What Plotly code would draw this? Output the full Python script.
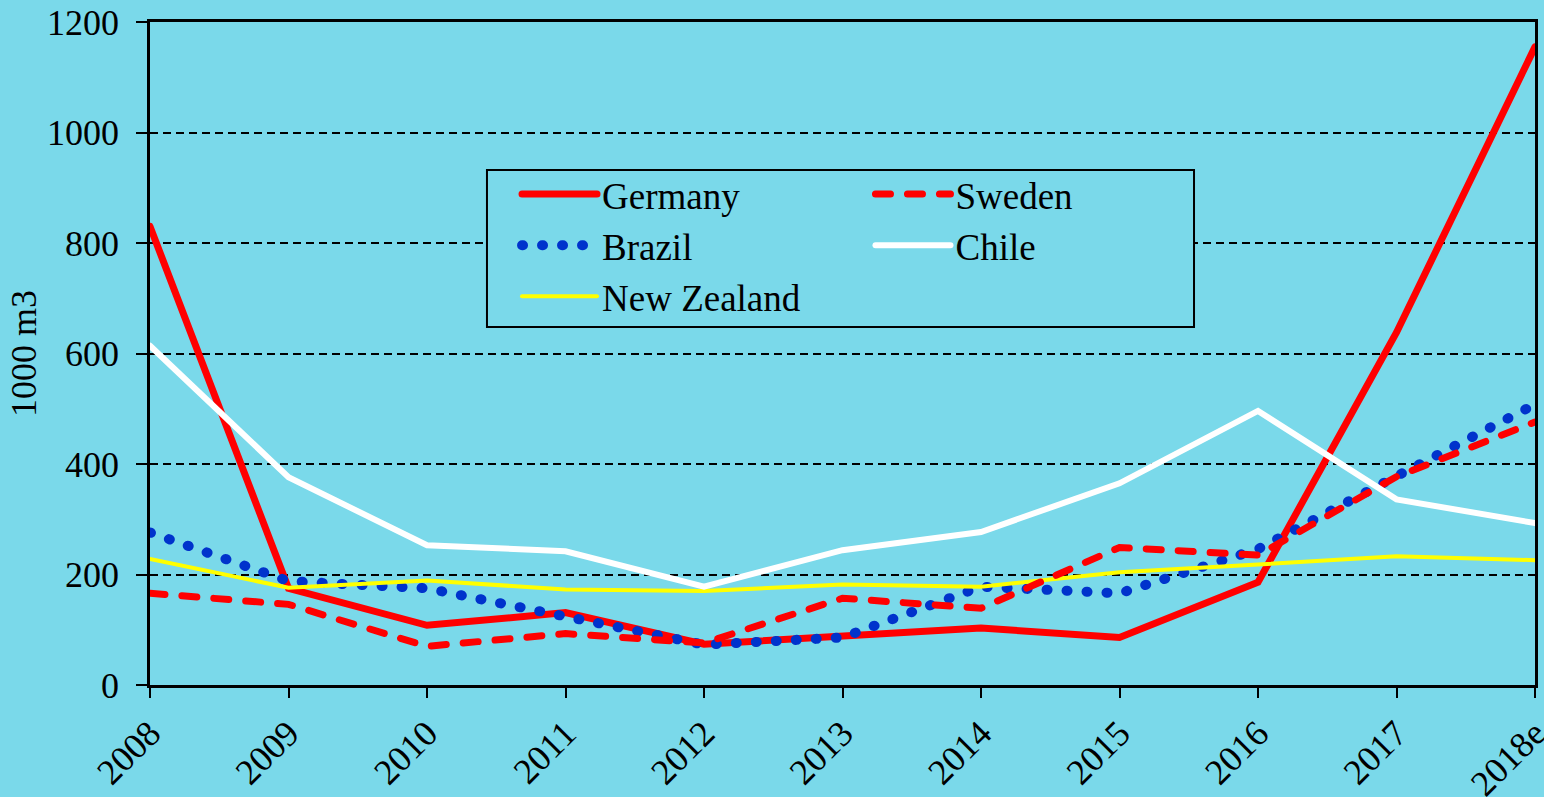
import plotly.graph_objects as go

years = ["2008", "2009", "2010", "2011", "2012", "2013", "2014", "2015", "2016", "2017", "2018e"]
germany = [830, 175, 108, 131, 74, 87, 103, 86, 186, 638, 1155]
sweden = [166, 146, 70, 93, 76, 157, 139, 249, 235, 377, 476]
brazil = [276, 188, 175, 124, 73, 86, 178, 166, 246, 378, 508]
chile = [614, 376, 253, 242, 178, 244, 277, 365, 496, 336, 293]
new_zealand = [228, 176, 189, 173, 170, 182, 178, 204, 218, 233, 226]
y_ticks = [0, 200, 400, 600, 800, 1000, 1200]

BG = "#7AD9EA"
FONT = "Liberation Serif, Times New Roman, serif"

fig = go.Figure()
fig.add_trace(go.Scatter(x=years, y=germany, name="Germany", mode="lines",
                         line=dict(color="#FF0000", width=7), legend="legend"))
fig.add_trace(go.Scatter(x=years, y=brazil, name="Brazil", mode="lines",
                         line=dict(color="#0033CC", width=10, dash="1px,19px"), legend="legend"))
fig.add_trace(go.Scatter(x=years, y=new_zealand, name="New Zealand", mode="lines",
                         line=dict(color="#FFFF00", width=4), legend="legend"))
fig.add_trace(go.Scatter(x=years, y=sweden, name="Sweden", mode="lines",
                         line=dict(color="#FF0000", width=7, dash="15px,17px"), legend="legend2"))
fig.add_trace(go.Scatter(x=years, y=chile, name="Chile", mode="lines",
                         line=dict(color="#FFFFFF", width=6), legend="legend2"))

legend_common = dict(
    bgcolor="rgba(0,0,0,0)", borderwidth=0, orientation="v",
    font=dict(family=FONT, size=37, color="black"),
    itemwidth=75, yanchor="top", xanchor="left", tracegroupgap=0,
)

fig.update_layout(
    width=1544, height=797,
    margin=dict(l=150, r=9, t=22, b=112, autoexpand=False),
    paper_bgcolor=BG, plot_bgcolor=BG,
    font=dict(family=FONT, size=34, color="black"),
    showlegend=True,
    legend=dict(x=0.265, y=0.7865, **legend_common),
    legend2=dict(x=0.5202, y=0.7865, **legend_common),
    shapes=[dict(type="rect", xref="paper", yref="paper",
                 x0=0.2433, x1=0.7538, y0=0.540, y1=0.7768,
                 line=dict(color="black", width=2), fillcolor=BG, layer="above")],
    xaxis=dict(
        type="category", range=[0, len(years) - 1], automargin=False,
        showline=True, linecolor="black", linewidth=2.5, mirror=True,
        ticks="outside", ticklen=10, tickwidth=2, tickcolor="black",
        tickangle=-45, showgrid=False, zeroline=False,
        tickfont=dict(family=FONT, size=36, color="black"),
    ),
    yaxis=dict(
        range=[0, 1200], tickvals=y_ticks, automargin=False,
        showline=True, linecolor="black", linewidth=2.5, mirror=True,
        ticks="outside", ticklen=11, tickwidth=2, tickcolor="black",
        showgrid=True, gridcolor="black", gridwidth=2, griddash="8px,5px",
        zeroline=False, ticklabelstandoff=10,
        tickfont=dict(family=FONT, size=36, color="black"),
        title=dict(text="1000 m3", font=dict(family=FONT, size=36, color="black"), standoff=0),
    ),
)

post = ("var s=document.createElement('style');"
        "s.innerHTML='path.js-line{stroke-linecap:round !important;} body{margin:0;}';"
        "document.head.appendChild(s);")
fig.write_html("out.html", post_script=post, config={"displayModeBar": False})
